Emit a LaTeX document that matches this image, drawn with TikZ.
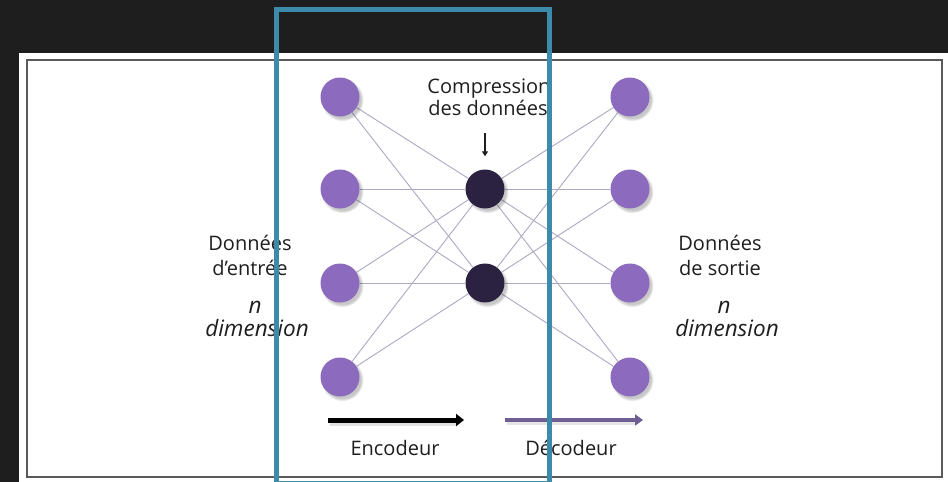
\documentclass[tikz,border=0pt]{standalone}
\usepackage{fontspec}
\setmainfont{Open Sans}
\usetikzlibrary{arrows.meta,shadows}
\definecolor{bgdark}{HTML}{1E1E1E}
\definecolor{framegray}{HTML}{5A5A5A}
\definecolor{nodepurple}{HTML}{8C6BBE}
\definecolor{nodedark}{HTML}{2B2140}
\definecolor{connline}{HTML}{ADA9C2}
\definecolor{decpurple}{HTML}{6E5E92}
\definecolor{hlblue}{HTML}{3C8BAB}
\definecolor{txtgray}{HTML}{1E1E1E}
\pgfdeclarelayer{back}
\pgfdeclarelayer{edges}
\pgfsetlayers{back,edges,main}
\tikzset{
  neuron/.style={circle, minimum size=39pt, inner sep=0pt,
    circular drop shadow={shadow xshift=2pt, shadow yshift=-2.5pt, opacity=0.22, fill=black}},
  inode/.style={neuron, fill=nodepurple},
  hnode/.style={neuron, fill=nodedark},
  conn/.style={draw=connline, line width=0.9pt},
  lbl/.style={font=\fontsize{20}{24}\selectfont, text=txtgray, inner sep=0pt, anchor=base},
  ilbl/.style={font=\fontsize{22.5}{24}\selectfont\itshape, text=txtgray, inner sep=0pt, anchor=base},
  encarrow/.style={line width=5pt, draw=black, -{Triangle[length=8pt,width=12pt]}},
  decarrow/.style={line width=4.5pt, draw=decpurple, -{Triangle[length=8pt,width=11pt]}},
  smallarrow/.style={line width=1.4pt, draw=txtgray, -{Triangle[length=5pt,width=6pt]}},
  hlbox/.style={draw=hlblue, line width=5pt}
}
\begin{document}
\begin{tikzpicture}[x=1pt,y=-1pt]
\useasboundingbox (0,0) rectangle (948,482);
\begin{pgfonlayer}{back}
  \fill[bgdark] (0,0) rectangle (948,482);
  \fill[white] (19,53) rectangle (948,482);
  \draw[framegray, line width=2pt] (27,60) rectangle (942,477);
\end{pgfonlayer}

% input layer
\node[inode] (i1) at (340,97) {};
\node[inode] (i2) at (340,189) {};
\node[inode] (i3) at (340,283) {};
\node[inode] (i4) at (340,377) {};
% hidden layer
\node[hnode] (h1) at (485,189) {};
\node[hnode] (h2) at (485,283) {};
% output layer
\node[inode] (o1) at (630,97) {};
\node[inode] (o2) at (630,189) {};
\node[inode] (o3) at (630,283) {};
\node[inode] (o4) at (630,377) {};

\begin{pgfonlayer}{edges}
  \foreach \a in {i1,i2,i3,i4} {
    \foreach \b in {h1,h2} { \draw[conn] (\a) -- (\b); }
  }
  \foreach \a in {h1,h2} {
    \foreach \b in {o1,o2,o3,o4} { \draw[conn] (\a) -- (\b); }
  }
\end{pgfonlayer}

% labels
\node[lbl] (c1) at (489,93) {Compression};
\node[lbl] (c2) at (488,115) {des données};
\draw[smallarrow, shorten <=18pt, shorten >=13pt] (c2.south -| h1.north) -- (h1.north);

\node[lbl] (l1) at (250,250) {Données};
\node[lbl] (l2) at (250,275) {d’entrée};
\node[ilbl] (l3) at (255,313) {n};
\node[ilbl] (l4) at (257,336) {dimension};

\node[lbl] (r1) at (720,250) {Données};
\node[lbl] (r2) at (720,275) {de sortie};
\node[ilbl] (r3) at (724,313) {n};
\node[ilbl] (r4) at (727,336) {dimension};

% encoder / decoder arrows
\coordinate (ea) at (328,420);
\coordinate (eb) at (464,420);
\coordinate (da) at (505,420);
\coordinate (db) at (643,420);
\draw[gray!40, line width=5pt, opacity=0.6] ([xshift=2pt,yshift=-3pt]ea) -- ([xshift=-6pt,yshift=-3pt]eb);
\draw[gray!40, line width=4pt, opacity=0.5] ([xshift=2pt,yshift=-3pt]da) -- ([xshift=-6pt,yshift=-3pt]db);
\draw[encarrow] (ea) -- (eb);
\draw[decarrow] (da) -- (db);
\node[lbl] (enc) at (395,455) {Encodeur};
\node[lbl] (dec) at (571,455) {Décodeur};

% highlight box
\draw[hlbox] (276.5,9) rectangle (549,483);
\end{tikzpicture}
\end{document}
